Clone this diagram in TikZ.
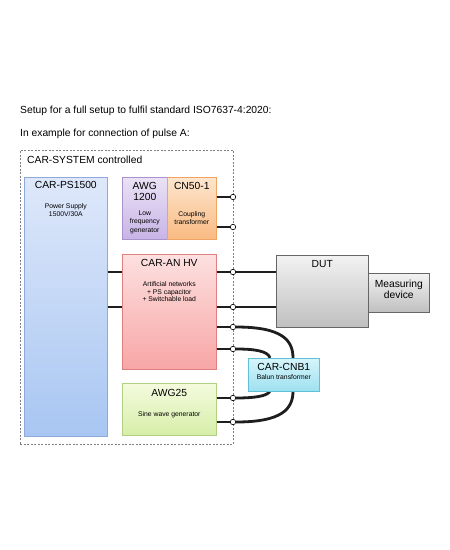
\documentclass[tikz,border=0pt]{standalone}
\usepackage{fontspec}
\setmainfont{Liberation Sans}
\usetikzlibrary{positioning}

\definecolor{wirecol}{HTML}{1E1E1E}
\definecolor{psline}{HTML}{8EAADB}
\definecolor{pstop}{HTML}{DEE8FA}
\definecolor{psbot}{HTML}{A8C6F2}
\definecolor{lfline}{HTML}{AA92CC}
\definecolor{lftop}{HTML}{EAE2F6}
\definecolor{lfbot}{HTML}{C8B4E6}
\definecolor{cnline}{HTML}{F0A464}
\definecolor{cntop}{HTML}{FDE6CE}
\definecolor{cnbot}{HTML}{F9BA82}
\definecolor{anline}{HTML}{DE8080}
\definecolor{antop}{HTML}{FDE0E0}
\definecolor{anbot}{HTML}{F8A6A6}
\definecolor{swline}{HTML}{B2D082}
\definecolor{swtop}{HTML}{F4FBDE}
\definecolor{swbot}{HTML}{D6EEA8}
\definecolor{cbline}{HTML}{60C0D8}
\definecolor{cbtop}{HTML}{D6F5FB}
\definecolor{cbbot}{HTML}{9EE0F0}

\begin{document}
\begin{tikzpicture}[
    x=1pt, y=-1pt,
    every node/.style = {inner sep=0pt, align=center},
    unit/.style = {rectangle, anchor=north west, draw=#1, line width=0.6pt},
    title/.style = {font=\fontsize{10.3}{11}\selectfont},
    note/.style = {font=\fontsize{6.8}{7.5}\selectfont},
    wire/.style = {draw=wirecol, line width=2.8pt},
    port/.style = {circle, draw=black, fill=white, line width=0.6pt, minimum size=5.5pt}
    ]
    \useasboundingbox (0,0) rectangle (450,550);

    % heading
    \node[title, anchor=base west] (head) at (20,113.6) {Setup for a full setup to fulfil standard ISO7637-4:2020:};
    \node[title, anchor=base west] (sub) at (20,136.6) {In example for connection of pulse A:};

    % system frame
    \node[unit=black!50, dashed, dash pattern=on 2pt off 1.5pt, minimum width=213pt, minimum height=294pt] (sys) at (20,150) {};
    \node[title, anchor=base west] (systitle) at (27,163.6) {CAR-SYSTEM controlled};

    % units
    \node[unit=psline, top color=pstop, bottom color=psbot, minimum width=83pt, minimum height=259pt] (ps) at (24,177) {};
    \node[title, below=4.5pt of ps.north] (pstitle) {CAR-PS1500};
    \node[note, below=26.5pt of ps.north] (psnote) {Power Supply\\1500V/30A};

    \node[unit=lfline, top color=lftop, bottom color=lfbot, minimum width=45pt, minimum height=62pt] (awglf) at (122,177) {};
    \node[title, below=5.5pt of awglf.north] (awglftitle) {AWG\\1200};
    \node[note, font=\fontsize{6.8}{8.5}\selectfont, below=33.5pt of awglf.north] (awglfnote) {Low\\frequency\\generator};

    \node[unit=cnline, top color=cntop, bottom color=cnbot, minimum width=49pt, minimum height=62pt] (cn) at (167,177) {};
    \node[title, below=5.5pt of cn.north] (cntitle) {CN50-1};
    \node[note, font=\fontsize{6.8}{8}\selectfont, below=34.5pt of cn.north] (cnnote) {Coupling\\transformer};

    \node[unit=anline, top color=antop, bottom color=anbot, minimum width=94pt, minimum height=115pt] (an) at (122,254) {};
    \node[title, below=5.4pt of an.north] (antitle) {CAR-AN HV};
    \node[note, below=27.5pt of an.north] (annote) {Artificial networks\\+ PS capacitor\\+ Switchable load};

    \node[unit=swline, top color=swtop, bottom color=swbot, minimum width=94pt, minimum height=52pt] (awgsine) at (122,383) {};
    \node[title, below=6.4pt of awgsine.north] (awgsinetitle) {AWG25};
    \node[note, below=28.5pt of awgsine.north] (awgsinenote) {Sine wave generator};

    \node[unit=black!60, top color=black!5, bottom color=black!25, minimum width=92pt, minimum height=72pt] (dut) at (276,255) {};
    \node[title, below=5.4pt of dut.north] (duttitle) {DUT};

    \node[unit=black!60, top color=black!5, bottom color=black!25, minimum width=61pt, minimum height=39pt] (meas) at (368,273) {};
    \node[title, below=6.4pt of meas.north] (meastitle) {Measuring\\device};

    % ports on the frame
    \foreach \name/\y in {p1/197, p2/227, p3/272, p4/307, p5/327, p6/349, p7/398, p8/422}
        \node[port] (\name) at (233,\y) {};

    % ends of the balun wires
    \coordinate (cnbin1) at (293,358);
    \coordinate (cnbin2) at (270,358);
    \coordinate (cnbout1) at (293,391);
    \coordinate (cnbout2) at (270,391);

    % wiring
    \draw[wire] (cn.east |- p1) -- (p1);
    \draw[wire] (cn.east |- p2) -- (p2);
    \draw[wire] (ps.east |- p3) -- (an.west |- p3);
    \draw[wire] (ps.east |- p4) -- (an.west |- p4);
    \foreach \p in {p3, p4} {
        \draw[wire] (an.east |- \p) -- (\p);
        \draw[wire] (\p) -- (dut.west |- \p);
    }
    \draw[wire] (an.east |- p5) -- (p5);
    \draw[wire] (an.east |- p6) -- (p6);
    \draw[wire] (awgsine.east |- p7) -- (p7);
    \draw[wire] (awgsine.east |- p8) -- (p8);
    \draw[wire] (p5) .. controls (282,327) and (293,340) .. (cnbin1);
    \draw[wire] (p6) .. controls (255,349) and (268,351) .. (cnbin2);
    \draw[wire] (cnbout2) .. controls (268,396) and (255,398) .. (p7);
    \draw[wire] (cnbout1) .. controls (293,409) and (282,422) .. (p8);

    % balun on top of its wires
    \node[unit=cbline, top color=cbtop, bottom color=cbbot, minimum width=71pt, minimum height=33pt] (cnb) at (248,358) {};
    \node[title, below=5.4pt of cnb.north] (cnbtitle) {CAR-CNB1};
    \node[note, below=16.5pt of cnb.north] (cnbnote) {Balun transformer};
\end{tikzpicture}
\end{document}
